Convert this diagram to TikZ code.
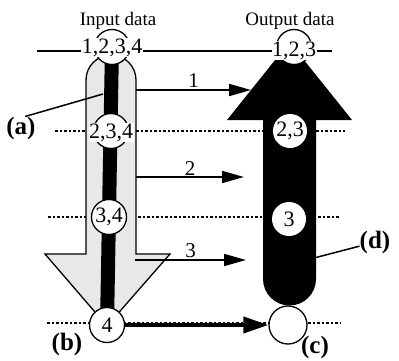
\documentclass[tikz,border=0pt]{standalone}
\usepackage{fontspec}
\setmainfont{Liberation Serif}
\usetikzlibrary{arrows.meta,backgrounds}

\begin{document}
\begin{tikzpicture}[x=1pt, y=1pt, font=\fontsize{22}{24}\selectfont,
	datum/.style = {shape=circle, draw, line width=1.3pt, fill=white, minimum size=35pt, inner sep=0pt},
	hole/.style = {shape=circle, fill=white, minimum size=34pt, inner sep=0pt},
	nums/.style = {fill=white, inner sep=0.5pt, anchor=base},
	caption/.style = {font=\fontsize{19}{21}\selectfont},
	tag/.style = {font=\fontsize{25}{27}\selectfont\bfseries, inner sep=0pt},
	level/.style = {line width=1.5pt, dash pattern=on 2.5pt off 2pt},
	flow/.style = {line width=2pt, -{Triangle[length=22pt,width=12pt]}}]
\useasboundingbox (0,0) rectangle (399,360);
% input column
\node[datum] (in1) at (112,313) {};
\node[nums] (in1t) at (112,307) {1,2,3,4};
\node[datum] (in2) at (111,229) {};
\node[nums] (in2t) at (111,222) {2,3,4};
\node[datum] (in3) at (109,143) {3,4};
\node[datum] (in4) at (107,35) {4};
% output column
\node[datum] (out1) at (294,313) {};
\node[nums] (out1t) at (294,304) {1,2,3};
\node[hole] (out2) at (290,229) {2,3};
\node[hole] (out3) at (289,141) {3};
\node[datum, minimum size=38pt] (out4) at (288,35) {};
% titles and tags
\node[caption] (intitle) at (118,339) {Input data};
\node[caption] (outtitle) at (290,339) {Output data};
\node[tag] (a) at (21,232) {(a)};
\node[tag] (b) at (67,16) {(b)};
\node[tag] (c) at (315,13) {(c)};
\node[tag] (d) at (375,118) {(d)};
\coordinate (ap) at (103,266);
\coordinate (dp) at (314,102);
\draw[line width=1.5pt] (a.70) -- (ap);
\draw[line width=1.5pt] (dp) -- (d.195);
% transfers
\coordinate (f1) at (136,270); \coordinate (t1) at (251,270);
\coordinate (f2) at (136,183); \coordinate (t2) at (244,183);
\coordinate (f3) at (135,100); \coordinate (t3) at (246,100);
\draw[flow] (f1) -- node[above, inner sep=2pt] (n1) {\fontsize{21}{23}\selectfont 1} (t1);
\draw[flow] (f2) -- node[above, inner sep=1pt] (n2) {\fontsize{21}{23}\selectfont 2} (t2);
\draw[flow] (f3) -- node[above, inner sep=1pt] (n3) {\fontsize{21}{23}\selectfont 3} (t3);
\draw[line width=4pt, -{Triangle[length=25pt,width=16pt]}] (in4) -- (out4);
\begin{scope}[on background layer]
	\draw[line width=1.5pt] (37,309) -- (332,309);
	\draw[level] (55,229) -- (345,229);
	\draw[level] (48,143) -- (340,143);
	\draw[level] (47,37) -- (340,37);
	\draw[fill=gray!18, line width=1.3pt] (86,106) -- (86,280) arc[start angle=180, end angle=0, radius=25]
		-- (136,106) -- (170,106) -- (107,34) -- (45,106) -- cycle;
	\draw[line width=14pt] (in1.center) -- (in4.center);
	\fill (263,81) -- (263,240) -- (227,240) -- (289.5,318) -- (352,240) -- (316,240) -- (316,81)
		arc[start angle=0, end angle=-180, radius=26.5] -- cycle;
\end{scope}
\end{tikzpicture}
\end{document}
